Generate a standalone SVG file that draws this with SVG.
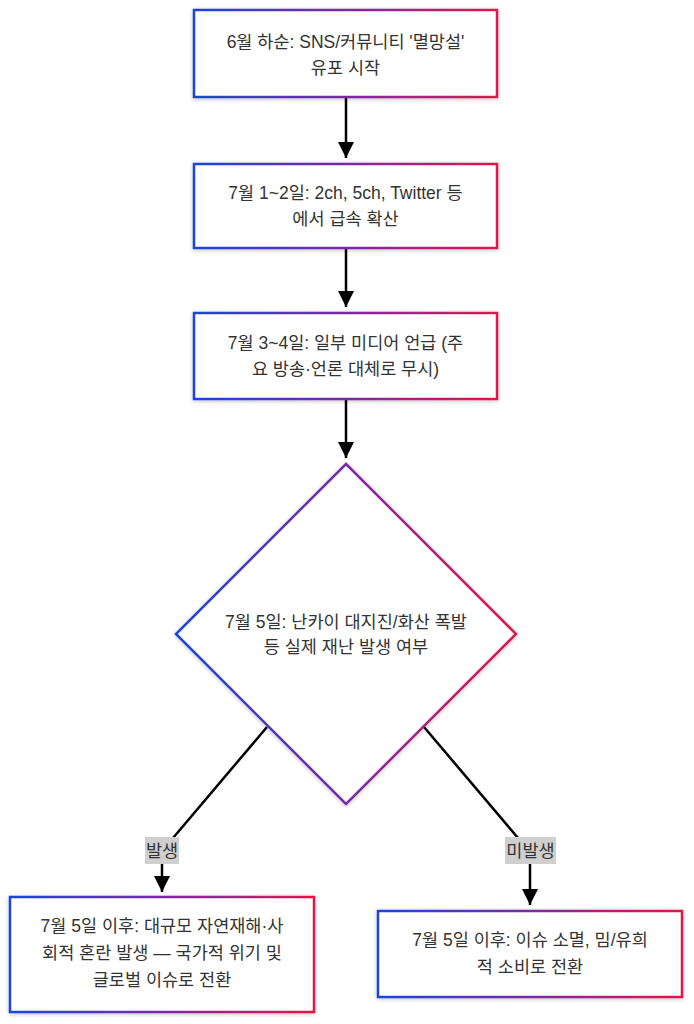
<svg xmlns="http://www.w3.org/2000/svg" width="694" height="1024" viewBox="0 0 694 1024">
<defs>
<linearGradient id="g" x1="0" y1="0" x2="1" y2="0">
<stop offset="0" stop-color="#1b45de"/>
<stop offset="0.5" stop-color="#7a2aa6"/>
<stop offset="1" stop-color="#e4164a"/>
</linearGradient>
<filter id="sh" x="-10%" y="-10%" width="120%" height="120%">
<feGaussianBlur in="SourceAlpha" stdDeviation="2"/>
<feOffset dx="0" dy="1" result="b"/>
<feComponentTransfer><feFuncA type="linear" slope="0.25"/></feComponentTransfer>
<feMerge><feMergeNode/><feMergeNode in="SourceGraphic"/></feMerge>
</filter>
<marker id="arr" viewBox="0 0 16 16" refX="16" refY="8" markerWidth="16" markerHeight="16" orient="auto" markerUnits="userSpaceOnUse">
<path d="M0,0 L16,8 L0,16 Z" fill="#000"/>
</marker>
</defs>
<style>
.node{fill:#fff;stroke:url(#g);stroke-width:2.5;filter:url(#sh)}
.t{font-family:"Liberation Sans","Noto Sans CJK KR",sans-serif;font-size:17.5px;fill:#333;text-anchor:middle}
.edge{stroke:#000;stroke-width:2.5;fill:none}
.lblbg{fill:#cfcfcf}
</style>
<rect width="694" height="1024" fill="#fff"/>
<g id="connectors">
<line class="edge" x1="346" y1="97" x2="346" y2="158" marker-end="url(#arr)"/>
<line class="edge" x1="346" y1="248" x2="346" y2="307" marker-end="url(#arr)"/>
<line class="edge" x1="346" y1="399" x2="346" y2="458" marker-end="url(#arr)"/>
<line class="edge" x1="267" y1="727" x2="173" y2="838"/>
<line class="edge" x1="162" y1="864" x2="162" y2="892" marker-end="url(#arr)"/>
<line class="edge" x1="424" y1="727" x2="518" y2="838"/>
<line class="edge" x1="530" y1="864" x2="530" y2="905" marker-end="url(#arr)"/>
<g id="label-yes">
<rect class="lblbg" x="145" y="837" width="34" height="27"/>
<text class="t" x="162" y="857">발생</text>
</g>
<g id="label-no">
<rect class="lblbg" x="505" y="837" width="51" height="27"/>
<text class="t" x="530.5" y="857">미발생</text>
</g>
</g>
<g id="n1">
<rect class="node" x="194" y="10" width="303" height="87"/>
<text class="t" x="345.5" y="48">6월 하순: SNS/커뮤니티 '멸망설'</text>
<text class="t" x="345.5" y="74">유포 시작</text>
</g>
<g id="n2">
<rect class="node" x="194" y="164" width="303" height="84"/>
<text class="t" x="345.5" y="199">7월 1~2일: 2ch, 5ch, Twitter 등</text>
<text class="t" x="345.5" y="225">에서 급속 확산</text>
</g>
<g id="n3">
<rect class="node" x="194" y="313" width="303" height="86"/>
<text class="t" x="345.5" y="349">7월 3~4일: 일부 미디어 언급 (주</text>
<text class="t" x="345.5" y="375">요 방송·언론 대체로 무시)</text>
</g>
<g id="n4">
<polygon class="node" points="346,464 516,634 346,804 176,634"/>
<text class="t" x="346" y="628">7월 5일: 난카이 대지진/화산 폭발</text>
<text class="t" x="346" y="653">등 실제 재난 발생 여부</text>
</g>
<g id="n5">
<rect class="node" x="10" y="897" width="304" height="115"/>
<text class="t" x="162" y="932">7월 5일 이후: 대규모 자연재해·사</text>
<text class="t" x="162" y="959">회적 혼란 발생 — 국가적 위기 및</text>
<text class="t" x="162" y="986">글로벌 이슈로 전환</text>
</g>
<g id="n6">
<rect class="node" x="378" y="911" width="304" height="86"/>
<text class="t" x="530" y="946">7월 5일 이후: 이슈 소멸, 밈/유희</text>
<text class="t" x="530" y="973">적 소비로 전환</text>
</g>
</svg>
